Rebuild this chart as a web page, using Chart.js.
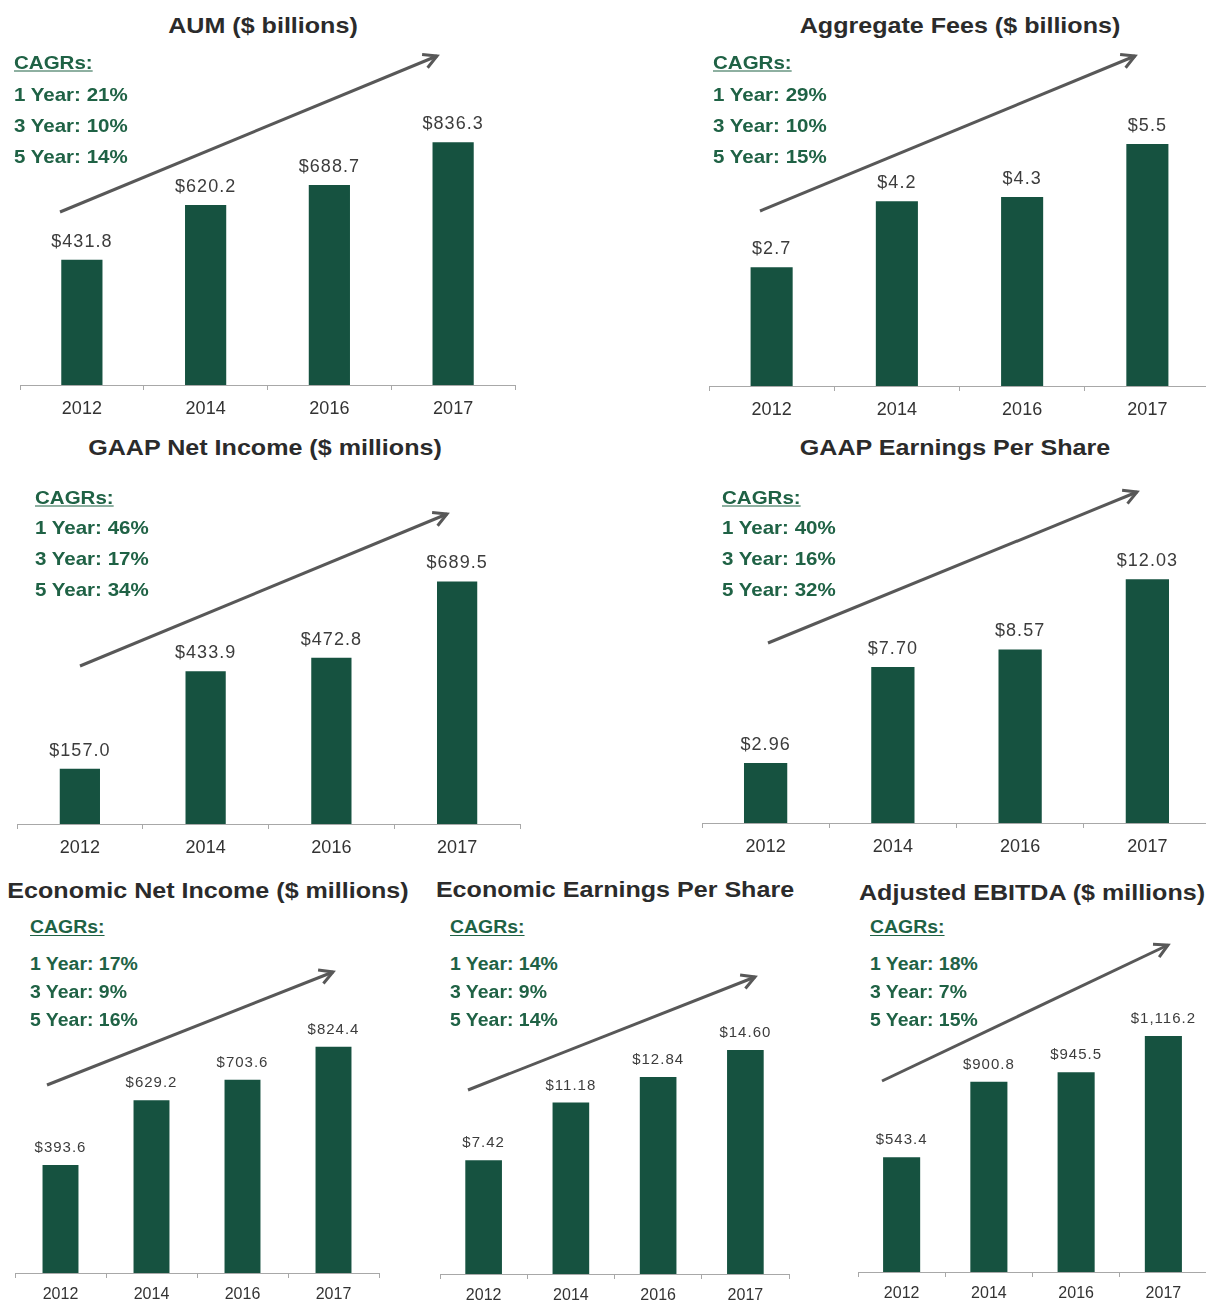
<!DOCTYPE html>
<html>
<head>
<meta charset="utf-8">
<script src="https://cdn.jsdelivr.net/npm/chart.js@4.4.1/dist/chart.umd.min.js"></script>
<style>
  html, body { margin: 0; padding: 0; background: #fff; overflow: hidden; }
  #page { position: relative; width: 1206px; height: 1301px; overflow: hidden; font-family: "Liberation Sans", Arial, sans-serif; }
  canvas { position: absolute; }
  svg { position: absolute; left: 0; top: 0; }
  .title { position: absolute; white-space: nowrap; font-weight: bold; font-size: 22px; color: #2b2b2b;
           line-height: 1; transform: translate(-50%, -50%) scaleX(1.14); }
  .cagr { position: absolute; white-space: nowrap; font-weight: bold; color: #1f6245; line-height: 1;
          transform-origin: left center; transform: translateY(-50%) scaleX(1.08); }
  .cagr.head { text-decoration: underline; text-underline-offset: 2px; }
</style>
</head>
<body>
<div id="page">
  <svg id="arrows" width="1206" height="1301"></svg>
</div>
<script>
// data
var years = ["2012", "2014", "2016", "2017"];

var aumValues = [431.8, 620.2, 688.7, 836.3];
var feeValues = [2.7, 4.2, 4.3, 5.5];
var gaapNetIncome = [157.0, 433.9, 472.8, 689.5];
var gaapEps = [2.96, 7.70, 8.57, 12.03];
var econNetIncome = [393.6, 629.2, 703.6, 824.4];
var econEps = [7.42, 11.18, 12.84, 14.60];
var adjEbitda = [543.4, 900.8, 945.5, 1116.2];

var cagrLabels = ["1 Year", "3 Year", "5 Year"];
var aumCagr = [21, 10, 14];
var feeCagr = [29, 10, 15];
var gaapNetCagr = [46, 17, 34];
var gaapEpsCagr = [40, 16, 32];
var econNetCagr = [17, 9, 16];
var econEpsCagr = [14, 9, 14];
var ebitdaCagr = [18, 7, 15];

var barColor = "#165240";

// one entry per small chart
var panels = [
  { title: "AUM ($ billions)", values: aumValues, cagr: aumCagr, dec: 1, big: true,
    left: 20, right: 515, axisY: 385, plotH: 285, yMax: 982, barPct: 0.333,
    titleX: 263, titleY: 26, cagrX: 14, cagrY: [62, 94, 125, 156], arrow: [60, 212, 437, 56] },
  { title: "Aggregate Fees ($ billions)", values: feeValues, cagr: feeCagr, dec: 1, big: true,
    left: 709, right: 1210, axisY: 386, plotH: 285, yMax: 6.48, barPct: 0.336,
    titleX: 960, titleY: 26, cagrX: 713, cagrY: [62, 94, 125, 156], arrow: [760, 211, 1135, 56] },
  { title: "GAAP Net Income ($ millions)", values: gaapNetIncome, cagr: gaapNetCagr, dec: 1, big: true,
    left: 17, right: 520, axisY: 824, plotH: 285, yMax: 810, barPct: 0.32,
    titleX: 265, titleY: 448, cagrX: 35, cagrY: [497, 527, 558, 589], arrow: [80, 666, 447, 514] },
  { title: "GAAP Earnings Per Share", values: gaapEps, cagr: gaapEpsCagr, dec: 2, big: true,
    left: 702, right: 1211, axisY: 823, plotH: 285, yMax: 14.07, barPct: 0.34,
    titleX: 955, titleY: 448, cagrX: 722, cagrY: [497, 527, 558, 589], arrow: [768, 643, 1137, 492] },
  { title: "Economic Net Income ($ millions)", values: econNetIncome, cagr: econNetCagr, dec: 1, big: false,
    left: 15, right: 379, axisY: 1273, plotH: 250, yMax: 910.7, barPct: 0.395,
    titleX: 208, titleY: 891, cagrX: 30, cagrY: [927, 964, 992, 1020], arrow: [47, 1085, 333, 972] },
  { title: "Economic Earnings Per Share", values: econEps, cagr: econEpsCagr, dec: 2, big: false,
    left: 440, right: 789, axisY: 1274, plotH: 250, yMax: 16.29, barPct: 0.42,
    titleX: 615, titleY: 890, cagrX: 450, cagrY: [927, 964, 992, 1020], arrow: [468, 1090, 755, 977] },
  { title: "Adjusted EBITDA ($ millions)", values: adjEbitda, cagr: ebitdaCagr, dec: 1, big: false,
    left: 858, right: 1207, axisY: 1272, plotH: 250, yMax: 1183, barPct: 0.425,
    titleX: 1032, titleY: 893, cagrX: 870, cagrY: [927, 964, 992, 1020], arrow: [882, 1081, 1168, 945] }
];

// value labels above the bars
var valueLabels = {
  id: "valueLabels",
  afterDatasetsDraw: function (chart, args, opts) {
    var ctx = chart.ctx;
    var ds = chart.data.datasets[0];
    ctx.save();
    ctx.font = opts.size + "px 'Liberation Sans', Arial, sans-serif";
    ctx.letterSpacing = "1px";
    ctx.fillStyle = "#3c3c3c";
    ctx.textAlign = "center";
    ctx.textBaseline = "middle";
    chart.getDatasetMeta(0).data.forEach(function (bar, i) {
      var txt = "$" + ds.data[i].toLocaleString("en-US", {
        minimumFractionDigits: opts.decimals, maximumFractionDigits: opts.decimals });
      ctx.fillText(txt, bar.x, bar.y - opts.offset);
    });
    ctx.restore();
  }
};

var page = document.getElementById("page");
var svg = document.getElementById("arrows");
var PAD = 40, SIDE = 6;

panels.forEach(function (p) {
  var xh = p.big ? 40 : 30;
  var cv = document.createElement("canvas");
  cv.width = p.right - p.left + SIDE * 2;
  cv.height = PAD + p.plotH + xh;
  cv.style.left = (p.left - SIDE) + "px";
  cv.style.top = (p.axisY - p.plotH - PAD) + "px";
  page.appendChild(cv);

  new Chart(cv, {
    type: "bar",
    data: {
      labels: years,
      datasets: [{
        data: p.values,
        backgroundColor: barColor,
        barPercentage: p.barPct,
        categoryPercentage: 1
      }]
    },
    options: {
      responsive: false,
      animation: false,
      devicePixelRatio: 1,
      layout: { padding: { top: PAD, left: SIDE, right: SIDE, bottom: 0 } },
      plugins: {
        legend: { display: false },
        tooltip: { enabled: false },
        valueLabels: { decimals: p.dec, size: p.big ? 18 : 15, offset: p.big ? 18 : 17 }
      },
      scales: {
        x: {
          grid: { drawOnChartArea: false, drawTicks: true, tickLength: 5, color: "#a8a8a8" },
          border: { color: "#a8a8a8", width: 1 },
          ticks: {
            color: "#333",
            padding: p.big ? 8 : 7,
            font: { family: "'Liberation Sans', Arial, sans-serif", size: p.big ? 18 : 16 }
          },
          afterFit: function (scale) { scale.height = xh; }
        },
        y: { display: false, min: 0, max: p.yMax }
      }
    },
    plugins: [valueLabels]
  });

  // title
  var t = document.createElement("div");
  t.className = "title";
  t.textContent = p.title;
  t.style.left = p.titleX + "px";
  t.style.top = p.titleY + "px";
  page.appendChild(t);

  // CAGR block
  var lines = ["CAGRs:"].concat(p.cagr.map(function (v, i) { return cagrLabels[i] + ": " + v + "%"; }));
  lines.forEach(function (txt, i) {
    var d = document.createElement("div");
    d.className = "cagr" + (i === 0 ? " head" : "");
    d.textContent = txt;
    d.style.left = p.cagrX + "px";
    d.style.top = p.cagrY[i] + "px";
    d.style.fontSize = (p.big ? 19 : 18) + "px";
    page.appendChild(d);
  });

  // trend arrow
  var a = p.arrow;
  var ang = Math.atan2(a[3] - a[1], a[2] - a[0]);
  var hl = 15, spread = 0.5;
  var ns = "http://www.w3.org/2000/svg";
  var line = document.createElementNS(ns, "line");
  line.setAttribute("x1", a[0]); line.setAttribute("y1", a[1]);
  line.setAttribute("x2", a[2]); line.setAttribute("y2", a[3]);
  line.setAttribute("stroke", "#585858"); line.setAttribute("stroke-width", "3");
  svg.appendChild(line);
  var head = document.createElementNS(ns, "polyline");
  var pts = [
    [a[2] - hl * Math.cos(ang - spread), a[3] - hl * Math.sin(ang - spread)],
    [a[2], a[3]],
    [a[2] - hl * Math.cos(ang + spread), a[3] - hl * Math.sin(ang + spread)]
  ];
  head.setAttribute("points", pts.map(function (q) { return q[0].toFixed(1) + "," + q[1].toFixed(1); }).join(" "));
  head.setAttribute("fill", "none");
  head.setAttribute("stroke", "#585858");
  head.setAttribute("stroke-width", "3");
  head.setAttribute("stroke-linejoin", "miter");
  svg.appendChild(head);
});
</script>
</body>
</html>
